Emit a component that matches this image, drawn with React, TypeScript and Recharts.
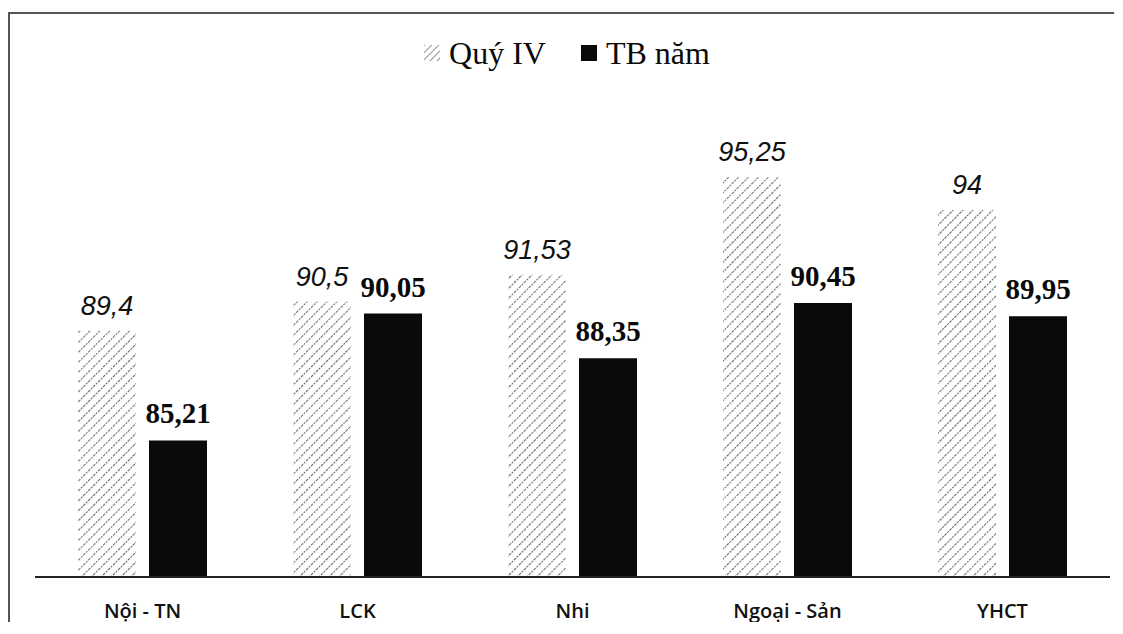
import React, { useEffect } from "react";
import { BarChart, Bar, XAxis, YAxis, Legend, LabelList } from "recharts";

const categories = ["Nội - TN", "LCK", "Nhi", "Ngoại - Sản", "YHCT"];
const quyIV = [89.4, 90.5, 91.53, 95.25, 94];
const tbNam = [85.21, 90.05, 88.35, 90.45, 89.95];

const data = categories.map((name, i) => ({ name, q4: quyIV[i], tb: tbNam[i] }));

const fmt = (v: any) => String(v).replace(".", ",");

const HatchIcon = () => (
  <svg width={16} height={16} style={{ marginRight: 9 }}>
    <defs>
      <pattern id="hatchIcon" width={5} height={5} patternUnits="userSpaceOnUse" patternTransform="rotate(45)">
        <line x1={0} y1={0} x2={0} y2={5} stroke="#999" strokeWidth={2} />
      </pattern>
    </defs>
    <rect x={0} y={0} width={16} height={16} fill="url(#hatchIcon)" />
  </svg>
);

const renderLegend = () => (
  <div
    style={{
      display: "flex",
      justifyContent: "center",
      alignItems: "center",
      fontFamily: "'Liberation Serif', 'Times New Roman', serif",
      fontSize: 32,
      lineHeight: "40px",
      color: "#0a0a0a",
      paddingLeft: 14,
    }}
  >
    <HatchIcon />
    <span style={{ marginRight: 35 }}>Quý IV</span>
    <span style={{ display: "inline-block", width: 16, height: 16, background: "#0a0a0a", marginRight: 9 }} />
    <span>TB năm</span>
  </div>
);

export default function App() {
  useEffect(() => {
    document.documentElement.style.overflow = "hidden";
    document.body.style.overflow = "hidden";
  }, []);

  return (
    <div
      style={{
        position: "relative",
        top: 4,
        width: 1104,
        height: 612,
        borderTop: "2px solid #555",
        borderLeft: "2px solid #555",
        background: "#fff",
        overflow: "hidden",
      }}
    >
      <BarChart
        width={1104}
        height={612}
        data={data}
        margin={{ top: 86, right: 4, left: 25, bottom: 9 }}
        barSize={58}
        barGap={13}
      >
        <defs>
          <pattern id="hatch" width={7} height={7} patternUnits="userSpaceOnUse" patternTransform="rotate(45)">
            <line x1={0} y1={0} x2={0} y2={7} stroke="#6e6e6e" strokeWidth={2.2} strokeDasharray="2 1" />
          </pattern>
        </defs>
        <XAxis
          dataKey="name"
          height={40}
          axisLine={{ stroke: "#222", strokeWidth: 2 }}
          tickLine={false}
          tickSize={0}
          tickMargin={27}
          tick={{ fill: "#111", fontSize: 20, fontWeight: 600, fontFamily: "'Open Sans', sans-serif" }}
        />
        <YAxis hide domain={[80, 98.2]} allowDataOverflow />
        <Legend verticalAlign="middle" align="center" content={renderLegend} wrapperStyle={{ top: 19, left: 0, width: 1100 }} />
        <Bar dataKey="q4" name="Quý IV" fill="url(#hatch)" isAnimationActive={false}>
          <LabelList
            dataKey="q4"
            position="top"
            offset={16}
            formatter={fmt}
            fill="#111"
            fontSize={27}
            fontStyle="italic"
            fontFamily="'Liberation Sans', Arial, sans-serif"
          />
        </Bar>
        <Bar dataKey="tb" name="TB năm" fill="#0a0a0a" isAnimationActive={false}>
          <LabelList
            dataKey="tb"
            position="top"
            offset={17}
            formatter={fmt}
            fill="#0a0a0a"
            fontSize={29}
            fontWeight="bold"
            fontFamily="'Liberation Serif', 'Times New Roman', serif"
          />
        </Bar>
      </BarChart>
    </div>
  );
}
